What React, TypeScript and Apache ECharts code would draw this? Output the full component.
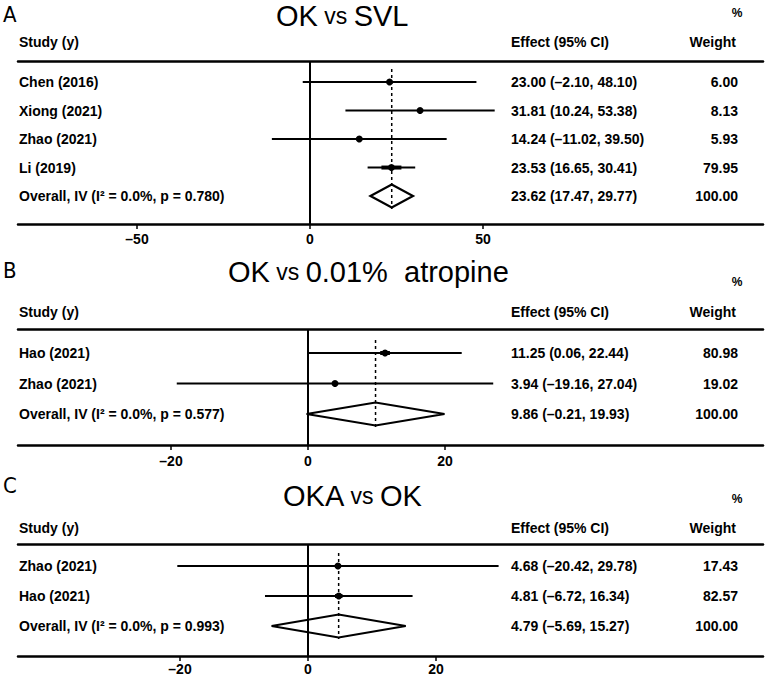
import React, { useEffect, useRef } from "react";
import * as echarts from "echarts";

// ---------- data ----------
const panelLetters = ["A", "B", "C"];
const titleLeft = ["OK", "OK", "OKA"];
const titleRight = ["SVL", "0.01%  atropine", "OK"];

const studiesA = ["Chen (2016)", "Xiong (2021)", "Zhao (2021)", "Li (2019)"];
const estA = [23.0, 31.81, 14.24, 23.53];
const lowA = [-2.1, 10.24, -11.02, 16.65];
const highA = [48.1, 53.38, 39.5, 30.41];
const weightA = [6.0, 8.13, 5.93, 79.95];
const overallA = [23.62, 17.47, 29.77]; // est, low, high
const hetA = [0.0, 0.78]; // I2 %, p

const studiesB = ["Hao (2021)", "Zhao (2021)"];
const estB = [11.25, 3.94];
const lowB = [0.06, -19.16];
const highB = [22.44, 27.04];
const weightB = [80.98, 19.02];
const overallB = [9.86, -0.21, 19.93];
const hetB = [0.0, 0.577];

const studiesC = ["Zhao (2021)", "Hao (2021)"];
const estC = [4.68, 4.81];
const lowC = [-20.42, -6.72];
const highC = [29.78, 16.34];
const weightC = [17.43, 82.57];
const overallC = [4.79, -5.69, 15.27];
const hetC = [0.0, 0.993];

const ticksA = [-50, 0, 50];
const ticksB = [-20, 0, 20];
const ticksC = [-20, 0, 20];

const headerStudy = "Study (y)";
const headerEffect = "Effect (95% CI)";
const headerWeight = "Weight";
const headerPct = "%";

// ---------- layout ----------
const FONT = "'Liberation Sans', Arial, Helvetica, sans-serif";
const NARROW = "'Liberation Sans Narrow', 'DejaVu Sans Condensed', 'Liberation Sans', sans-serif";
const GRID_L = 18;
const GRID_R = 763;
const EFFECT_X = 511;
const WEIGHT_RIGHT = 738;

const layouts = [
  { top: 61, bottom: 224, zeroX: 310, ppu: 3.46, yMin: 0.263, yMax: 5.98, lm: 8, boxScale: 0.25, titleX: 276, titleY: 16, letterY: 14, pctY: 13, headerY: 42 },
  { top: 329, bottom: 445, zeroX: 308, ppu: 6.85, yMin: 0.213, yMax: 4.016, lm: 9, boxScale: 0.12, titleX: 228, titleY: 272, letterY: 270, pctY: 282, headerY: 312 },
  { top: 544, bottom: 656, zeroX: 308, ppu: 6.4, yMin: 0.267, yMax: 4.0, lm: 6, boxScale: 0.09, titleX: 283, titleY: 496, letterY: 485, pctY: 499, headerY: 528 },
];

const panels = [
  { studies: studiesA, est: estA, lo: lowA, hi: highA, w: weightA, ov: overallA, het: hetA, ticks: ticksA },
  { studies: studiesB, est: estB, lo: lowB, hi: highB, w: weightB, ov: overallB, het: hetB, ticks: ticksB },
  { studies: studiesC, est: estC, lo: lowC, hi: highC, w: weightC, ov: overallC, het: hetC, ticks: ticksC },
];

function fmt(v: number): string {
  const s = Math.abs(v).toFixed(2);
  return v < 0 ? "\u2013" + s : s;
}

function buildOption() {
  const grid: any[] = [];
  const xAxis: any[] = [];
  const yAxis: any[] = [];
  const series: any[] = [];
  const graphic: any[] = [];

  panels.forEach((pn, i) => {
    const L = layouts[i];
    grid.push({ left: GRID_L, width: GRID_R - GRID_L, top: L.top, height: L.bottom - L.top, containLabel: false });
    const xMin = -(L.zeroX - GRID_L) / L.ppu;
    const xMax = (GRID_R - L.zeroX) / L.ppu;
    const ruleStyle = { color: "#000", width: 2.5 };
    xAxis.push({
      type: "value", gridIndex: i, position: "bottom", min: xMin, max: xMax,
      splitLine: { show: false },
      axisLine: { show: true, onZero: false, lineStyle: ruleStyle },
      axisTick: { show: true, customValues: pn.ticks, length: 5, lineStyle: { color: "#000", width: 1.5 } },
      axisLabel: {
        customValues: pn.ticks, margin: L.lm, fontSize: 14, fontWeight: "bold", fontFamily: FONT, color: "#000",
        formatter: (v: number) => (v < 0 ? "\u2013" + Math.abs(v) : String(v)),
      },
    });
    xAxis.push({
      type: "value", gridIndex: i, position: "top", min: xMin, max: xMax,
      splitLine: { show: false },
      axisLine: { show: true, onZero: false, lineStyle: ruleStyle },
      axisTick: { show: false }, axisLabel: { show: false },
    });

    const n = pn.studies.length;
    const rowLabels = [...pn.studies, `Overall, IV (I\u00B2 = ${pn.het[0].toFixed(1)}%, p = ${pn.het[1].toFixed(3)})`];
    const effects = [
      ...pn.est.map((e, k) => `${fmt(e)} (${fmt(pn.lo[k])}, ${fmt(pn.hi[k])})`),
      `${fmt(pn.ov[0])} (${fmt(pn.ov[1])}, ${fmt(pn.ov[2])})`,
    ];
    const weights = [...pn.w.map((w) => w.toFixed(2)), (100).toFixed(2)];
    const rows = rowLabels.map((_, k) => k + 1);
    const pick = (arr: string[]) => (v: number) => arr[Math.round(v) - 1] ?? "";
    const yBase = {
      type: "value", gridIndex: i, min: L.yMin, max: L.yMax, inverse: true,
      splitLine: { show: false }, axisLine: { show: false, onZero: false }, axisTick: { show: false },
    };
    const lab = { customValues: rows, fontSize: 14, fontWeight: "bold", fontFamily: FONT, color: "#000" };
    yAxis.push({ ...yBase, position: "left", offset: 0, axisLabel: { ...lab, inside: true, margin: 1, formatter: pick(rowLabels) } });
    yAxis.push({ ...yBase, position: "right", offset: -(GRID_R - EFFECT_X), axisLabel: { ...lab, inside: false, margin: 0, formatter: pick(effects) } });
    yAxis.push({ ...yBase, position: "right", offset: 0, axisLabel: { ...lab, inside: true, margin: GRID_R - WEIGHT_RIGHT, formatter: pick(weights) } });

    const xIdx = i * 2;
    const yIdx = i * 3;

    series.push({
      type: "custom", xAxisIndex: xIdx, yAxisIndex: yIdx, clip: false,
      encode: { x: [0, 1, 2], y: 3 },
      data: pn.est.map((e, k) => [pn.lo[k], pn.hi[k], e, k + 1, pn.w[k]]),
      renderItem: (_p: any, api: any) => {
        const r = api.value(3);
        const a = api.coord([api.value(0), r]);
        const b = api.coord([api.value(1), r]);
        const c = api.coord([api.value(2), r]);
        const bw = api.value(4) * L.boxScale;
        const children: any[] = [
          { type: "line", shape: { x1: a[0], y1: a[1], x2: b[0], y2: b[1] }, style: { stroke: "#000", lineWidth: 2 } },
        ];
        if (bw > 4) children.push({ type: "rect", shape: { x: c[0] - bw / 2, y: c[1] - 2, width: bw, height: 4 }, style: { fill: "#000" } });
        children.push({ type: "circle", shape: { cx: c[0], cy: c[1], r: 3.5 }, style: { fill: "#000" } });
        return { type: "group", children };
      },
      markLine: {
        silent: true, symbol: "none", label: { show: false },
        lineStyle: { color: "#000", width: 2, type: "solid" },
        data: [{ xAxis: 0 }],
      },
    });

    series.push({
      type: "custom", xAxisIndex: xIdx, yAxisIndex: yIdx, clip: false,
      encode: { x: [0, 1, 2], y: 3 },
      data: [[pn.ov[1], pn.ov[2], pn.ov[0], n + 1]],
      renderItem: (_p: any, api: any) => {
        const r = api.value(3);
        const lo = api.coord([api.value(0), r]);
        const hi = api.coord([api.value(1), r]);
        const c = api.coord([api.value(2), r]);
        const first = api.coord([api.value(2), 1]);
        const h = 11.5;
        return {
          type: "group",
          children: [
            { type: "line", shape: { x1: c[0], y1: first[1] - 13, x2: c[0], y2: c[1] + h + 1.5 }, style: { stroke: "#000", lineWidth: 1.5, lineDash: [3, 3] } },
            { type: "polygon", shape: { points: [[lo[0], c[1]], [c[0], c[1] - h], [hi[0], c[1]], [c[0], c[1] + h]] }, style: { fill: "none", stroke: "#000", lineWidth: 2.2 } },
          ],
        };
      },
    });

    // texts
    graphic.push({ type: "text", x: 3, y: L.letterY, style: { text: panelLetters[i], fontSize: 22, fontFamily: NARROW, fill: "#000", verticalAlign: "middle", align: "left" } });
    graphic.push({
      type: "text", x: L.titleX, y: L.titleY,
      style: {
        text: `{a|${titleLeft[i]}}{b| vs }{a|${titleRight[i]}}`,
        rich: {
          a: { fontSize: 29, fontFamily: FONT, fill: "#000", verticalAlign: "middle" },
          b: { fontSize: 23, fontFamily: FONT, fill: "#000", verticalAlign: "middle" },
        },
        verticalAlign: "middle", align: "left",
      },
    });
    const hs = { fontSize: 14, fontWeight: "bold", fontFamily: FONT, fill: "#000", verticalAlign: "middle" };
    graphic.push({ type: "text", x: 737, y: L.pctY, style: { ...hs, text: headerPct, fontSize: 12, align: "center" } });
    graphic.push({ type: "text", x: GRID_L + 1, y: L.headerY, style: { ...hs, text: headerStudy, align: "left" } });
    graphic.push({ type: "text", x: EFFECT_X, y: L.headerY, style: { ...hs, text: headerEffect, align: "left" } });
    graphic.push({ type: "text", x: 736, y: L.headerY, style: { ...hs, text: headerWeight, align: "right" } });
  });

  return {
    animation: false,
    backgroundColor: "#fff",
    grid, xAxis, yAxis, series, graphic,
  };
}

export default function App() {
  const ref = useRef<HTMLDivElement>(null);
  useEffect(() => {
    if (!ref.current) return;
    const chart = echarts.init(ref.current, null, { renderer: "svg" });
    chart.setOption(buildOption() as any);
    return () => chart.dispose();
  }, []);
  return <div ref={ref} style={{ position: "absolute", left: 0, top: 0, width: 768, height: 679, background: "#fff" }} />;
}
